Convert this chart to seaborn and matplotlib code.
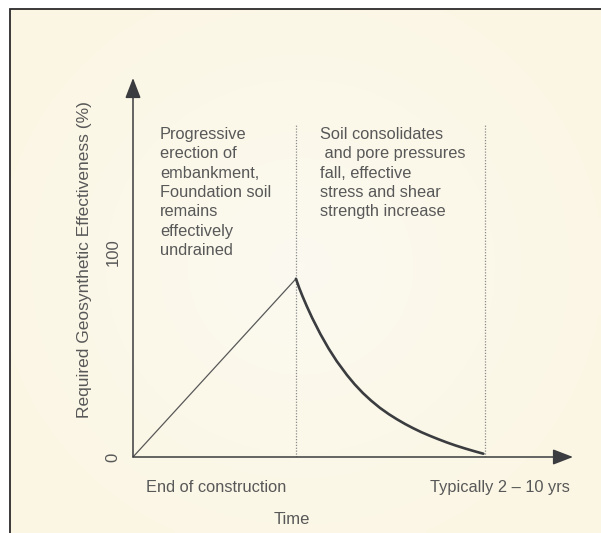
import numpy as np
import pandas as pd
import seaborn as sns
import matplotlib
matplotlib.use("Agg")
import matplotlib.pyplot as plt
from matplotlib.patches import Rectangle
from matplotlib.colors import LinearSegmentedColormap

# Veriler
rise_t = [0.0, 1.0]
rise_v = [0.0, 87.0]

decay_t = [1.0, 1.02, 1.04, 1.067, 1.10, 1.15, 1.20, 1.25, 1.313, 1.36,
           1.411, 1.46, 1.515, 1.57, 1.62, 1.67, 1.718, 1.77, 1.82, 1.87,
           1.926, 1.98, 2.04, 2.10, 2.15]
decay_v = [87.0, 82.5, 78.5, 73.5, 67.8, 60.0, 53.0, 46.8, 40.0, 35.5,
           31.2, 27.6, 24.0, 20.9, 18.4, 16.1, 14.1, 12.1, 10.4, 8.8,
           7.1, 5.6, 4.1, 2.7, 1.6]

phase_t = [1.0, 2.16]          # kesikli dikey cizgiler
y_ticks = [0, 100]
y_tick_labels = ["0", "100"]

left_text = ("Progressive\nerection of\nembankment,\nFoundation soil\n"
             "remains\neffectively\nundrained")
right_text = ("Soil consolidates\n and pore pressures\nfall, effective\n"
              "stress and shear\nstrength increase")

sns.set_theme(style="white")
plt.rcParams["font.family"] = ["Liberation Sans", "DejaVu Sans"]

gray = "#585858"
dark = "#3a3c3f"

fig = plt.figure(figsize=(6.01, 5.33), dpi=100, facecolor="white")

# krem renkli panel (ortasi biraz daha acik), sol ve ust kenarda cerceve
panel = Rectangle((10 / 601, -0.02), 1.0, (533 - 9) / 533 + 0.02,
                  transform=fig.transFigure, facecolor="none",
                  edgecolor="#2b2b2b", linewidth=1.3, zorder=2)
bg = fig.add_axes([0, 0, 1, 1], zorder=-1)
bg.set_axis_off()
gx, gy = np.meshgrid(np.linspace(-1, 1, 120), np.linspace(-1, 1, 110))
glow = np.clip(1 - np.sqrt((gx / 1.2) ** 2 + (gy / 1.3) ** 2), 0, 1)
cmap = LinearSegmentedColormap.from_list("krem", ["#fbf6e3", "#fcfaf0"])
im = bg.imshow(glow, cmap=cmap, extent=[0, 1, 0, 1], aspect="auto",
               interpolation="bilinear")
clip = Rectangle((10 / 601, -0.02), 1.0, (533 - 9) / 533 + 0.02,
                 transform=fig.transFigure, facecolor="none")
im.set_clip_path(clip)
fig.add_artist(panel)

ax = fig.add_axes([133 / 601, 76 / 533, 440 / 601, 379 / 533])
ax.patch.set_alpha(0)
ax.set_xlim(0, 2.70)
ax.set_ylim(0, 185)
for s in ax.spines.values():
    s.set_visible(False)

# eksen oklari
arrow = dict(arrowstyle="-|>,head_length=0.62,head_width=0.24", color=dark,
             lw=1.1, shrinkA=0, shrinkB=0, mutation_scale=20)
ax.annotate("", xy=(2.70, 0), xytext=(0, 0), arrowprops=arrow, annotation_clip=False)
ax.annotate("", xy=(0, 185), xytext=(0, 0), arrowprops=arrow, annotation_clip=False)

# kesikli cizgiler
for t in phase_t:
    ax.plot([t, t], [0, 162], color="#8a8a8a", lw=0.9, linestyle=(0, (1, 1.3)))

rise = pd.DataFrame({"t": rise_t, "v": rise_v})
decay = pd.DataFrame({"t": decay_t, "v": decay_v})
sns.lineplot(data=rise, x="t", y="v", ax=ax, color=gray, linewidth=0.9,
             sort=False, estimator=None)
sns.lineplot(data=decay, x="t", y="v", ax=ax, color=dark, linewidth=1.9,
             sort=False, estimator=None)

ax.set_xticks([])
ax.set_yticks(y_ticks)
ax.set_yticklabels(y_tick_labels, rotation=90, va="center", fontsize=12, color=gray)
ax.tick_params(axis="y", length=0, pad=9)

ax.set_ylabel("Required Geosynthetic Effectiveness (%)", fontsize=12.5, color=gray, va="center")
ax.yaxis.set_label_coords(-0.111, 0.522)
ax.set_xlabel("Time", fontsize=12, color=gray, va="center")
ax.xaxis.set_label_coords(0.361, -0.1636)

ax.text(0.509, -15.1, "End of construction", fontsize=11.8, color=gray,
        ha="center", va="center", clip_on=False)
ax.text(2.25, -15.1, "Typically 2 \u2013 10 yrs", fontsize=11.8, color=gray,
        ha="center", va="center", clip_on=False)

ax.text(0.166, 161.0, left_text, fontsize=11.8, color=gray, ha="left", va="top",
        linespacing=1.36)
ax.text(1.147, 161.0, right_text, fontsize=11.8, color=gray, ha="left", va="top",
        linespacing=1.36)

plt.savefig("out.png", dpi=100, facecolor=fig.get_facecolor())
